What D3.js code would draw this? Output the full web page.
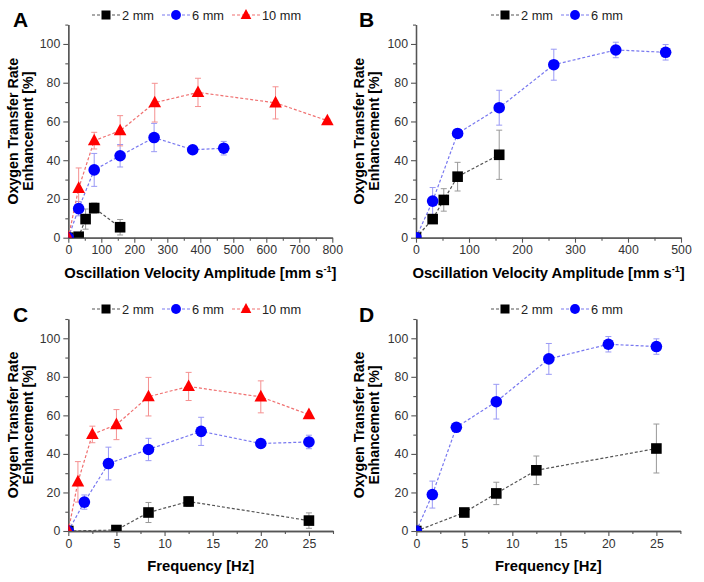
<!DOCTYPE html>
<html>
<head>
<meta charset="utf-8">
<script src="https://cdn.jsdelivr.net/npm/d3@7"></script>
<style>
  body { margin: 0; background: #fff; }
  text { font-family: Arial, "Liberation Sans", sans-serif; }
</style>
</head>
<body>
<svg id="chart" width="704" height="582"></svg>
<script>
// x values: oscillation velocity amplitude [mm/s] and frequency [Hz]
var velocity2 = [0, 31.4, 52.4, 78.5, 157];
var velocity6 = [0, 31.4, 78.5, 157, 260, 377, 471];
var velocity10 = [0, 31.4, 78.5, 157, 262, 393, 628, 785];
var freq2 = [0, 5, 8.33, 12.5, 25];
var freq6 = [0, 1.67, 4.17, 8.33, 13.8, 20, 25];
var freq10 = [0, 1, 2.5, 5, 8.33, 12.5, 20, 25];

// enhancement [%] for panels A and C
var acVal2 = [0, 0.5, 9.6, 15.3, 5.4];
var acErr2 = [0, 0.8, 5.2, 2.6, 4];
var acVal6 = [0, 15, 35, 42.3, 51.7, 45.4, 46.2];
var acErr6 = [0, 3.7, 8.5, 5.8, 7.3, 1.5, 3.5];
var acVal10 = [0, 25.5, 50.1, 55.2, 69.7, 75, 69.6, 60.4];
var acErr10 = [0, 10.5, 4.3, 7.8, 10, 7.3, 8.3, 0.8];

// enhancement [%] for panels B and D
var bdVal2 = [0, 9.6, 19.5, 31.5, 42.8];
var bdErr2 = [0, 1.2, 5.8, 7.4, 12.7];
var bdVal6 = [0, 18.9, 53.8, 67.1, 89.3, 96.9, 95.7];
var bdErr6 = [0, 7, 2.2, 9, 8, 4, 4];

var yTicks = [0, 20, 40, 60, 80, 100];
var velTicksA = [0, 100, 200, 300, 400, 500, 600, 700, 800];
var velTicksB = [0, 100, 200, 300, 400, 500];
var freqTicks = [0, 5, 10, 15, 20, 25];

var styles = {
  "2 mm": { color: "#000000", line: "#555555", err: "#999999", shape: "square" },
  "6 mm": { color: "#0000ff", line: "#7878f0", err: "#9a9af5", shape: "circle" },
  "10 mm": { color: "#ff0000", line: "#f07070", err: "#f59090", shape: "triangle" }
};

var svg = d3.select("#chart");

function zip(xs, ys, es) {
  return xs.map(function(x, i) { return { x: x, y: ys[i], e: es[i] }; });
}

function drawMarker(g, shape, color, x, y) {
  if (shape === "square") {
    g.append("rect").attr("x", x - 5.3).attr("y", y - 5.3)
      .attr("width", 10.6).attr("height", 10.6).attr("fill", color);
  } else if (shape === "circle") {
    g.append("circle").attr("cx", x).attr("cy", y).attr("r", 5.8).attr("fill", color);
  } else {
    g.append("path")
      .attr("d", `M${x},${y - 7}L${x + 6.3},${y + 4.6}L${x - 6.3},${y + 4.6}Z`)
      .attr("fill", color);
  }
}

var panelCount = 0;
function panel(opt) {
  panelCount++;
  var x = d3.scaleLinear().domain(opt.xDomain).range([opt.left, opt.right]);
  var y = d3.scaleLinear().domain([0, 110]).range([opt.bottom, opt.top]);
  var g = svg.append("g");
  var clipId = "clip" + panelCount;

  g.append("clipPath").attr("id", clipId).append("rect")
    .attr("x", opt.left).attr("y", opt.top - 10)
    .attr("width", opt.right - opt.left + 10).attr("height", opt.bottom - opt.top + 10);

  // axes
  g.append("g")
    .attr("transform", `translate(0,${opt.bottom})`)
    .call(d3.axisBottom(x).tickValues(opt.xTicks).tickSize(5).tickSizeOuter(0).tickPadding(3));
  g.append("g")
    .attr("transform", `translate(0,${opt.bottom})`)
    .call(d3.axisBottom(x).tickValues(opt.xMinor).tickSize(3).tickSizeOuter(0).tickFormat(""));
  g.append("g")
    .attr("transform", `translate(${opt.left},0)`)
    .call(d3.axisLeft(y).tickValues(yTicks).tickSize(5).tickSizeOuter(0).tickPadding(3));
  g.append("g")
    .attr("transform", `translate(${opt.left},0)`)
    .call(d3.axisLeft(y).tickValues([10, 30, 50, 70, 90, 110]).tickSize(3).tickSizeOuter(0).tickFormat(""));
  g.selectAll(".domain").attr("stroke", "#555").attr("stroke-width", 1.3);
  g.selectAll(".tick line").attr("stroke", "#555").attr("stroke-width", 1.1);
  g.selectAll(".tick text").attr("fill", "#333").style("font-size", "12.3px")
    .style("font-family", "Arial, 'Liberation Sans', sans-serif");

  // series
  var plot = g.append("g").attr("clip-path", `url(#${clipId})`);
  opt.series.forEach(function(s) {
    var st = styles[s.name];
    var data = zip(s.xs, s.ys, s.es);
    plot.append("path").datum(data)
      .attr("d", d3.line().x(d => x(d.x)).y(d => y(d.y)))
      .attr("fill", "none").attr("stroke", st.line)
      .attr("stroke-width", 1.2).attr("stroke-dasharray", "3,2");
    data.forEach(function(d) {
      if (!d.e) return;
      var cx = x(d.x), y1 = y(d.y + d.e), y2 = y(d.y - d.e);
      plot.append("line").attr("x1", cx).attr("x2", cx).attr("y1", y1).attr("y2", y2)
        .attr("stroke", st.err).attr("stroke-width", 1);
      [y1, y2].forEach(function(yy) {
        plot.append("line").attr("x1", cx - 3).attr("x2", cx + 3).attr("y1", yy).attr("y2", yy)
          .attr("stroke", st.err).attr("stroke-width", 1);
      });
    });
  });
  opt.series.forEach(function(s) {
    var st = styles[s.name];
    zip(s.xs, s.ys, s.es).forEach(function(d) {
      drawMarker(plot, st.shape, st.color, x(d.x), y(d.y));
    });
  });

  // legend
  opt.series.forEach(function(s, i) {
    var st = styles[s.name];
    var cx = opt.legendPos[i];
    g.append("line").attr("x1", cx - 14).attr("x2", cx + 14)
      .attr("y1", opt.legendY).attr("y2", opt.legendY)
      .attr("stroke", st.line).attr("stroke-width", 1.2).attr("stroke-dasharray", "3,2");
    var m = g.append("g");
    drawMarker(m, st.shape, st.color, cx, opt.legendY);
    m.attr("transform", `translate(${cx},${opt.legendY}) scale(0.85) translate(${-cx},${-opt.legendY})`);
    g.append("text").attr("x", cx + 16).attr("y", opt.legendY + 4.6)
      .attr("fill", "#222").style("font-size", "12.8px").text(s.name);
  });

  // panel letter
  g.append("text").attr("x", opt.letterX).attr("y", opt.top + 2.5)
    .style("font-size", "21px").style("font-weight", "bold").text(opt.letter);

  // y label
  var ymid = (opt.top + opt.bottom) / 2;
  g.append("text")
    .attr("transform", `translate(${opt.letterX + 5},${ymid}) rotate(-90)`)
    .attr("text-anchor", "middle").style("font-size", "14.2px").style("font-weight", "bold")
    .text("Oxygen Transfer Rate");
  g.append("text")
    .attr("transform", `translate(${opt.letterX + 19.5},${ymid}) rotate(-90)`)
    .attr("text-anchor", "middle").style("font-size", "14.2px").style("font-weight", "bold")
    .text("Enhancement [%]");

  // x label
  var xl = g.append("text")
    .attr("x", (opt.left + opt.right) / 2).attr("y", opt.bottom + 40)
    .attr("text-anchor", "middle").style("font-size", "14.8px").style("font-weight", "bold");
  if (opt.velocity) {
    xl.append("tspan").text("Oscillation Velocity Amplitude [mm s");
    xl.append("tspan").attr("dy", -6).style("font-size", "9px").text("-1");
    xl.append("tspan").attr("dy", 6).text("]");
  } else {
    xl.text("Frequency [Hz]");
  }
}

panel({
  letter: "A", letterX: 13, left: 68.3, right: 332.3, top: 24.6, bottom: 237.7,
  xDomain: [0, 800], xTicks: velTicksA, xMinor: d3.range(50, 800, 100), velocity: true,
  legendY: 15, legendPos: [106, 176, 246],
  series: [
    { name: "2 mm", xs: velocity2, ys: acVal2, es: acErr2 },
    { name: "6 mm", xs: velocity6, ys: acVal6, es: acErr6 },
    { name: "10 mm", xs: velocity10, ys: acVal10, es: acErr10 }
  ]
});

panel({
  letter: "B", letterX: 359, left: 416, right: 681, top: 24.6, bottom: 237.7,
  xDomain: [0, 500], xTicks: velTicksB, xMinor: d3.range(50, 500, 100), velocity: true,
  legendY: 15, legendPos: [505, 575],
  series: [
    { name: "2 mm", xs: velocity2, ys: bdVal2, es: bdErr2 },
    { name: "6 mm", xs: velocity6, ys: bdVal6, es: bdErr6 }
  ]
});

panel({
  letter: "C", letterX: 13, left: 68.3, right: 333, top: 319, bottom: 531,
  xDomain: [0, 27.5], xTicks: freqTicks, xMinor: [2.5, 7.5, 12.5, 17.5, 22.5, 27.5], velocity: false,
  legendY: 309, legendPos: [106, 176, 246],
  series: [
    { name: "2 mm", xs: freq2, ys: acVal2, es: acErr2 },
    { name: "6 mm", xs: freq6, ys: acVal6, es: acErr6 },
    { name: "10 mm", xs: freq10, ys: acVal10, es: acErr10 }
  ]
});

panel({
  letter: "D", letterX: 359, left: 416.3, right: 680.4, top: 319, bottom: 531,
  xDomain: [0, 27.5], xTicks: freqTicks, xMinor: [2.5, 7.5, 12.5, 17.5, 22.5, 27.5], velocity: false,
  legendY: 309, legendPos: [505, 575],
  series: [
    { name: "2 mm", xs: freq2, ys: bdVal2, es: bdErr2 },
    { name: "6 mm", xs: freq6, ys: bdVal6, es: bdErr6 }
  ]
});
</script>
</body>
</html>
